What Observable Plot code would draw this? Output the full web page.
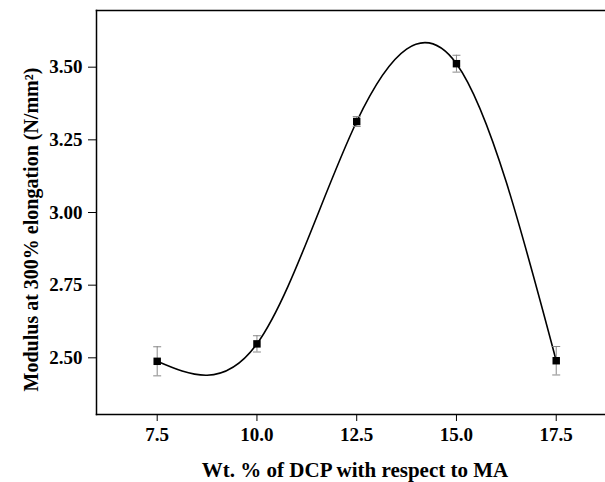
<!DOCTYPE html>
<html>
<head>
<meta charset="utf-8">
<script src="https://cdn.jsdelivr.net/npm/d3@7"></script>
<script src="https://cdn.jsdelivr.net/npm/@observablehq/plot@0.6"></script>
<style>
  html, body { margin: 0; padding: 0; background: #fff; }
  #chart svg { display: block; }
  #chart svg g[aria-label$="tick label"] { font-size: 19px !important; font-weight: bold; }
</style>
</head>
<body>
<div id="chart"></div>
<script>
// Data
const dcp = [7.5, 10.0, 12.5, 15.0, 17.5];
const modulus = [2.488, 2.548, 3.313, 3.512, 2.490];
const errors = [0.050, 0.028, 0.017, 0.029, 0.049];
const xTicks = [7.5, 10.0, 12.5, 15.0, 17.5];
const yTicks = [2.50, 2.75, 3.00, 3.25, 3.50];
const xTitle = "Wt. % of DCP with respect to MA";
const yTitle = "Modulus at 300% elongation (N/mm²)";

const data = dcp.map((x, i) => ({x, y: modulus[i], e: errors[i]}));

const capSymbol = {
  draw(ctx, size) {
    const w = Math.sqrt(size) / 2;
    ctx.moveTo(-w, 0);
    ctx.lineTo(w, 0);
  }
};

const font = "'Liberation Serif', 'Times New Roman', serif";

const chart = Plot.plot({
  width: 605,
  height: 482,
  marginTop: 10,
  marginBottom: 68,
  marginLeft: 96,
  marginRight: 0,
  style: {fontFamily: font, fontWeight: "bold", fontSize: "19px", color: "#000", background: "#fff"},
  x: {
    domain: [5.979, 18.735],
    ticks: xTicks,
    tickFormat: d3.format(".1f"),
    label: null
  },
  y: {
    domain: [2.305, 3.695],
    ticks: yTicks,
    tickFormat: d3.format(".2f"),
    label: null
  },
  marks: [
    Plot.axisX({ticks: xTicks, tickFormat: d3.format(".1f"), tickSize: 7, tickPadding: 6, label: null}),
    Plot.axisY({ticks: yTicks, tickFormat: d3.format(".2f"), tickSize: 8, tickPadding: 6, label: null}),
    Plot.text([xTitle], {frameAnchor: "bottom", text: d => d, dx: 4, dy: 56, fontSize: 21, fontWeight: "bold", lineAnchor: "middle", fill: "#000"}),
    Plot.text([yTitle], {frameAnchor: "left", text: d => d, rotate: -90, dx: -65, dy: 17, fontSize: 20, fontWeight: "bold", textAnchor: "middle", lineAnchor: "middle", fill: "#000"}),
    Plot.frame({anchor: "top", stroke: "#000", strokeWidth: 1.5}),
    Plot.frame({anchor: "left", stroke: "#000", strokeWidth: 1.5}),
    Plot.frame({anchor: "bottom", stroke: "#000", strokeWidth: 1.5}),
    Plot.line(data, {x: "x", y: "y", curve: "natural", stroke: "#000", strokeWidth: 1.6}),
    Plot.ruleX(data, {x: "x", y1: d => d.y - d.e, y2: d => d.y + d.e, stroke: "#888", strokeWidth: 1}),
    Plot.dot(data, {x: "x", y: d => d.y - d.e, symbol: capSymbol, r: 4.5, stroke: "#888", strokeWidth: 1}),
    Plot.dot(data, {x: "x", y: d => d.y + d.e, symbol: capSymbol, r: 4.5, stroke: "#888", strokeWidth: 1}),
    Plot.dot(data, {x: "x", y: "y", symbol: "square", r: 4.2, fill: "#000", stroke: "none"})
  ]
});

document.getElementById("chart").appendChild(chart);
</script>
</body>
</html>
